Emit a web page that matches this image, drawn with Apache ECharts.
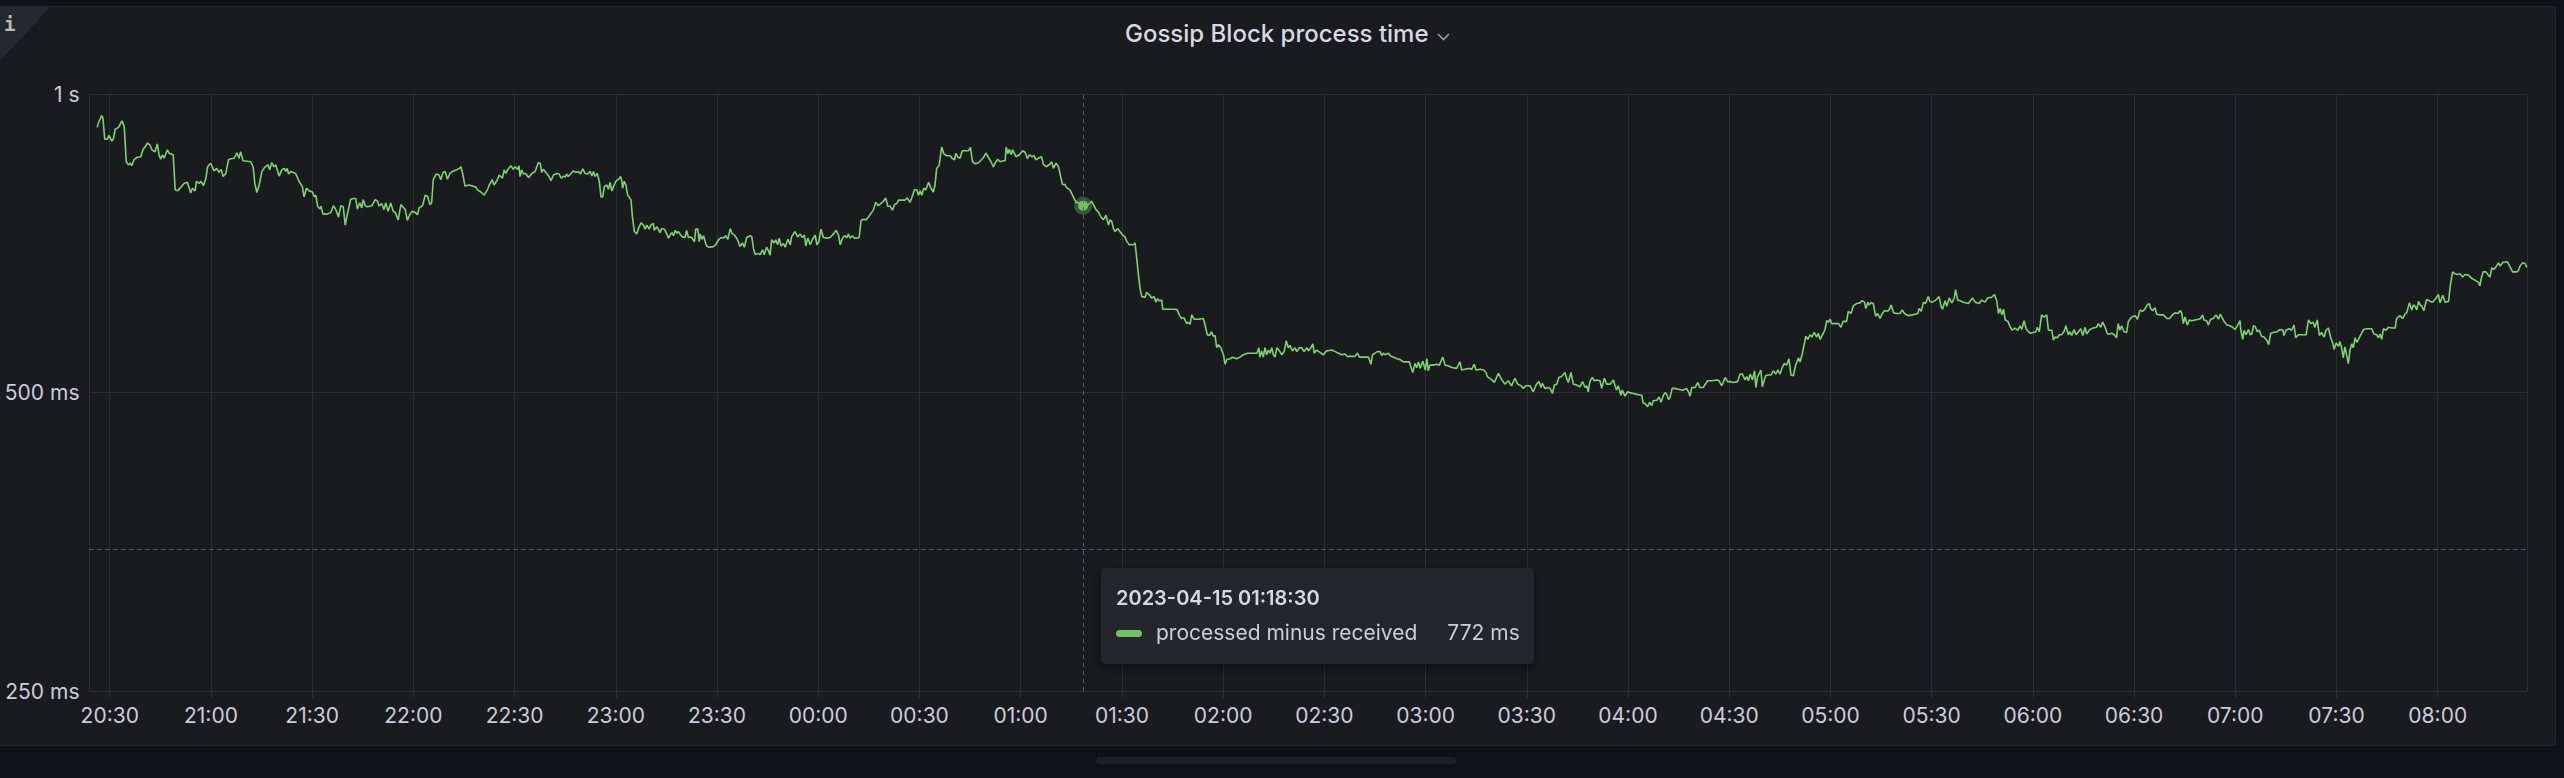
<!DOCTYPE html>
<html>
<head>
<meta charset="utf-8">
<title>Gossip Block process time</title>
<script src="https://cdn.jsdelivr.net/npm/echarts@6/dist/echarts.min.js"></script>
<style>
  html, body { margin: 0; padding: 0; width: 2564px; height: 778px; overflow: hidden; background: #111217; }
  #panel { position: absolute; left: 0; top: 6px; width: 2556px; height: 740px; box-sizing: border-box;
           background: #1a1b1f; border: 1px solid #26272c; border-left: none; border-radius: 0 4px 4px 0; }
  #corner { position: absolute; left: 0; top: 7px; width: 50px; height: 54px; background: #26282d;
            clip-path: polygon(0 0, 100% 0, 0 100%); }
  #info { position: absolute; left: 4px; top: 13px; font: bold 19px 'DejaVu Sans Mono', monospace; color: #b9bac0; }
  #scroll { position: absolute; left: 1096px; top: 757px; width: 360px; height: 7px; border-radius: 4px; background: #1f2025; }
  #chart { position: absolute; left: 0; top: 0; width: 2564px; height: 778px; }
</style>
</head>
<body>
<div id="panel"></div>
<div id="corner"></div>
<div id="info">i</div>
<div id="scroll"></div>
<div id="chart"></div>
<script>
// ---------------- data ----------------
// time of each sample, in minutes after 2023-04-14 20:30:00
const minutesSeg1 = [
  -3.7,-3.4,-2.4,-2.0,-1.5,-0.7,-0.2,0.6,1.1,1.6,
  2.6,3.6,4.3,4.9,5.5,6.2,6.5,7.2,8.2,9.2,
  9.9,10.5,11.2,11.9,12.5,13.4,14.1,14.6,15.1,15.6,
  16.1,17.1,17.6,18.8,19.4,20.1,21.1,22.0,23.0,24.0,
  24.5,25.3,25.7,26.5,27.0,27.8,28.5,29.0,29.9,30.4,
  30.9,31.7,32.4,33.0,33.6,34.4,35.2,35.9,36.9,37.7,
  38.3,38.8,39.5,41.8,42.5,43.0,43.6,44.3,45.1,46.1,
  46.9,47.4,48.0,48.7,49.2,50.2,51.0,51.7,52.2,52.6,
  53.0,53.7,54.4,55.1,56.1,57.1,57.6,58.3,59.1,60.1,
  60.6,61.1,61.6,62.3,62.6,63.2,64.5,65.5,66.3,67.0,
  67.8,68.5,69.2,69.8,70.5,71.4,72.1,72.9,73.4,74.1,
  74.7,75.1,75.7,76.4,77.7,78.7,79.4,79.8,80.6,81.3,
  81.8,82.5,83.3,84.0,84.6,85.5,86.3,87.6,88.2,88.9,
  89.7,90.5,91.2,91.7,92.7,93.5,94.2,94.9,95.4,95.9,
  96.8,97.6,98.1,98.8,99.4,100.1,100.8,101.6,102.8,103.6,
  104.1,104.6,105.3,106.5,107.5,108.5,109.0,110.0,111.0,112.0,
  112.5,113.4,113.9,114.9,115.4,116.4,116.9,117.4
];
const valuesSeg1 = [
  926,935,952,946,901,901,909,897,902,922,
  926,940,928,855,849,852,847,859,864,865,
  880,885,893,889,879,875,891,869,860,869,
  862,879,872,869,801,799,806,813,815,795,
  804,799,817,813,817,809,823,845,852,845,
  837,842,834,840,826,832,859,861,862,873,
  862,875,857,855,845,813,796,810,836,845,
  849,839,853,845,849,827,839,842,836,842,
  831,836,834,832,817,807,788,804,799,797,
  788,791,771,766,771,757,757,760,772,765,
  752,772,770,738,759,783,785,785,766,777,
  768,783,772,770,772,783,780,771,776,765,
  777,762,777,762,760,747,774,765,746,756,
  762,760,756,768,772,791,789,774,777,820,
  831,829,820,834,836,821,832,836,839,842,
  845,832,808,810,808,806,801,797,791,802,
  810,820,810,820,829,823,839,832
];
const minutesSeg2 = [
  118.0,118.9,119.6,120.1,120.9,121.3,121.6,122.1,122.6,123.3,
  124.1,125.1,126.1,127.0,127.6,128.0,128.5,129.5,130.2,130.8,
  131.5,132.5,133.2,133.8,134.5,135.0,135.4,135.9,136.7,137.4,
  138.1,138.9,139.5,140.2,140.9,141.7,142.4,142.9,143.4,143.8,
  144.5,145.1,145.6,146.1,146.6,147.3,147.8,148.3,148.8,149.3,
  150.0,150.8,151.4,151.8,152.0,152.5,153.0,153.5,153.9,154.5,
  154.9,155.5,156.2,156.7,157.5,158.2,158.7,159.2,159.9,160.4,
  161.1,161.4,162.1,162.6,163.1,163.6,164.4,165.1,165.6,166.1,
  166.6,167.1,167.6,168.1,168.5,169.0,169.7,170.5,171.0,171.5,
  172.0,172.5,173.3,173.7,174.3,174.7,175.0,175.5,176.0,176.5,
  176.9,177.6,178.9,179.6,180.4,181.2,181.9,182.6,183.2,183.9,
  184.4,185.3,186.1,186.8,187.5,188.1,188.8,189.8,190.3,190.8,
  191.3,192.1,192.8,193.5,194.0,194.7,195.2,195.7,196.2,197.0,
  197.4,198.0,198.4,199.0,199.7,200.2,201.0,201.7,202.1,203.1,
  203.9,204.6,205.3,205.9,206.3,206.9,207.6,208.3,209.1,209.6,
  210.2,210.8,211.5,212.5,213.5,214.5,215.3,216.0,216.5,217.2,
  217.8,218.5,218.9,219.4,220.1,220.7,221.4,222.1,222.7,223.4,
  224.1,224.9,225.7,226.4,227.0,227.8,228.6,229.3,230.0,230.6,
  231.3,232.0,232.6,233.3,233.8,234.8,235.7,236.4,237.2,237.7,
  238.5,239.2,239.7,240.2,240.7,241.3,241.9,242.7,243.4,244.1,
  244.6,245.1,245.8,246.6,247.2,248.1,249.1,249.6,250.4,250.8,
  251.4,252.0,252.7,253.5,254.5,255.1,255.7,256.5,257.5,258.5,
  259.0,259.7,260.4,261.2,261.9,262.4,263.2,263.9,264.9,265.4,
  265.7,266.2,266.6,267.2,267.6
];
const valuesSeg2 = [
  840,847,840,845,840,847,826,839,831,832,
  824,832,836,853,852,834,840,832,826,818,
  829,832,831,823,827,825,831,826,832,837,
  834,836,831,841,832,831,836,827,836,826,
  832,817,788,788,807,810,802,815,799,807,
  817,821,826,817,804,817,810,791,788,782,
  753,727,723,732,742,738,731,738,731,738,
  741,729,735,731,725,732,731,723,716,721,
  725,720,729,724,727,723,718,717,729,717,
  718,717,710,731,731,710,723,714,720,710,
  703,701,702,705,713,717,716,720,714,732,
  724,720,713,702,708,701,717,720,718,699,
  689,691,689,697,689,701,696,688,713,708,
  713,705,716,703,707,701,714,705,718,727,
  718,723,717,721,703,716,705,714,721,705,
  710,731,717,716,717,723,729,721,705,716,
  720,717,723,716,720,716,716,717,746,748,
  747,752,759,765,778,772,776,780,786,771,
  771,764,774,776,782,782,782,786,778,786,
  801,801,791,799,791,804,801,815,804,797,
  810,842,847,885,871,867,867,862,859,872,
  864,862,877,877,877,884,855,851,853,860,
  864,872,864,855,845,852,860,855,857,857,
  885,871,880,869,879
];
const minutesSeg3 = [
  268.6,269.6,270.6,271.3,272.0,272.6,273.3,273.9,274.5,275.2,
  276.2,276.7,277.5,278.5,279.2,279.7,280.5,281.2,281.9,282.4,
  283.1,283.6,284.6,285.6,286.4,287.6,288.5,290.1,291.0,291.7,
  292.3,293.0,293.7,294.5,295.3,296.0,296.5,297.0,297.5,298.0,
  298.7,299.4,300.2,300.9,301.4,302.2,303.4,303.9,304.4,304.9,
  305.4,305.9,306.9,307.3,308.1,308.8,309.5,310.1,310.5,311.1,
  311.8,312.1,313.1,314.3,315.7,316.4,317.0,317.7,318.4,319.2,
  319.7,320.2,320.7,321.4,322.7,324.1,324.6,325.3,325.9,326.6,
  327.1,327.6,328.1,328.6,329.3,330.1,330.6,331.1,332.1,332.8,
  334.0,335.0,336.0,337.2,338.5,340.0,340.6,340.9,341.4,341.9,
  342.4,342.9,343.4,343.9,344.4,344.9,345.4,345.9,346.7,347.4,
  348.1,348.7,349.3,349.8,350.6,351.3,351.8,352.6,353.3,354.0,
  354.8,355.3,356.0,356.6,357.0,357.7,358.7,359.7,360.7,362.2,
  363.2,364.2,365.2,366.1,366.8,368.1,369.1,369.8,370.4,371.6,
  373.1,373.8,374.3,375.0,375.7,376.5,377.0,377.5,378.0,379.0,
  379.7,380.5,381.5,382.4,383.4,385.2,386.2,386.9,387.4,387.9,
  388.4,389.2,389.9,390.4,390.8,391.3,392.3,393.3,394.1,395.1,
  395.8,396.8,397.8,399.2,400.2,400.7,401.7,403.0,403.7,404.4,
  405.0,406.2,407.2,407.9,408.3,409.4,410.4,411.6,412.5,413.5,
  414.5,415.5
];
const valuesSeg3 = [
  865,869,877,874,861,869,865,867,859,862,
  865,850,845,849,855,842,852,845,824,811,
  811,805,801,788,778,777,772,774,780,772,
  765,761,753,747,755,738,747,744,732,727,
  732,727,721,718,711,705,705,708,683,657,
  636,625,624,631,628,623,625,617,622,619,
  620,607,607,607,607,606,599,594,595,587,
  589,586,599,593,593,594,586,572,571,576,
  570,571,555,559,555,546,534,540,541,543,
  541,543,546,548,548,548,555,543,551,543,
  555,546,552,548,555,546,543,555,551,546,
  550,564,555,558,551,555,550,555,555,550,
  555,551,555,560,548,552,549,546,551,552,
  550,548,546,547,544,544,544,548,543,543,
  543,534,546,548,550,550,545,548,546,548,
  544,543,541,540,537,537,524,535,530,537,
  529,538,527,541,526,533,533,534,533,543,
  533,532,530,529,537,527,528,529,528,534,
  527,528,527,524,519,516,512,523,516,510,
  514,508
];
const minutesSeg4 = [
  416.5,417.3,418.3,419.0,419.7,421.0,421.9,422.9,423.6,424.2,
  424.6,425.4,426.4,426.9,427.6,428.2,428.9,429.5,430.3,431.3,
  431.8,432.3,433.1,433.8,434.8,435.8,436.5,437.3,437.8,438.2,
  438.7,439.4,440.0,440.7,441.7,442.2,443.0,443.7,444.7,445.7,
  446.1,446.6,447.1,447.9,448.3,449.1,449.9,450.6,451.6,452.6,
  454.1,454.5,455.2,455.8,456.5,457.0,457.5,458.5,459.2,459.8,
  460.5,461.0,461.5,462.0,462.5,463.1,463.9,464.9,465.9,466.4,
  467.4,467.9,468.4,468.9,469.9,470.7,471.3,472.3,473.6,474.8,
  476.3,477.0,477.8,478.8,479.5,480.2,481.2,482.5,483.2,483.9,
  484.7,485.2,485.7,486.2,486.9,487.5,487.9,488.4,488.8,489.4,
  489.8,490.4,490.8,491.6,492.4,493.1,493.8,494.4,495.1,495.6,
  496.3,497.0,497.7,498.3,499.0,499.7,500.5,501.0,501.7,502.3,
  502.7,503.3,504.0,504.5,505.2,505.9,506.4,506.9,507.9,508.4,
  508.9,509.4,509.9,510.4,511.4,512.4,513.1,513.8,514.8,515.3,
  516.1,516.8,517.8,518.8,519.3,520.1,520.5,521.1,521.4,522.0,
  522.7,523.4,524.0,524.7,525.4,526.0,526.7,527.4,528.0,528.7,
  529.6,530.6,531.3,531.9,533.1,534.3,535.1,535.9,536.3,536.9,
  537.6,538.2,539.0,539.5,540.2,541.2,542.2,542.8,543.2,544.0,
  544.5,545.2,546.0,546.7,547.1,547.7,548.4,549.4,550.9,552.1,
  552.9,554.1,554.8,555.8,556.6,557.8,558.6,559.3,559.8,560.3,
  560.8,561.3,561.8,562.6,563.2,563.9,564.7,565.5,566.2
];
const valuesSeg4 = [
  517,510,508,505,508,508,501,510,513,506,
  511,505,506,505,499,509,510,518,519,524,
  517,512,524,510,509,507,513,506,508,501,
  513,518,514,515,514,505,517,510,510,515,
  509,503,508,497,503,496,501,500,499,498,
  497,488,487,484,489,485,491,491,495,489,
  497,500,498,492,495,505,505,504,503,503,
  505,501,496,506,506,512,506,506,514,514,
  515,514,508,518,513,513,512,513,522,522,
  515,519,514,522,515,526,506,519,522,527,
  507,515,520,521,521,526,522,527,522,529,
  535,533,541,521,520,533,542,537,548,561,
  570,566,572,569,575,569,574,566,574,579,
  591,589,593,587,587,587,582,590,590,604,
  601,612,615,616,619,617,608,617,613,616,
  615,597,601,594,601,605,604,606,613,602,
  601,601,606,601,598,599,600,601,608,604,
  617,615,625,618,617,620,625,611,607,619,
  611,623,616,623,635,620,619,617,615,623,
  617,615,620,617,623,624,628,619,601,608,
  599,607,592,590,583,578,581,578,584
];
const minutesSeg5 = [
  566.7,567.4,568.0,568.7,569.3,570.1,570.9,571.3,571.9,572.6,
  573.3,574.1,574.6,575.6,576.1,576.6,577.3,577.8,578.5,579.2,
  579.8,580.5,581.0,581.5,582.2,582.8,583.5,584.2,584.8,585.5,
  585.9,586.9,587.9,588.9,589.4,590.1,590.7,591.4,592.1,592.7,
  593.4,594.1,594.8,595.3,595.8,596.3,597.0,597.8,598.3,599.3,
  600.3,601.0,601.8,602.5,603.2,603.9,604.5,604.9,605.5,606.2,
  606.7,607.7,608.7,609.7,610.5,611.4,612.1,613.1,613.6,614.1,
  614.6,615.1,615.8,616.4,617.1,618.1,619.1,619.7,620.3,620.7,
  621.5,622.0,622.7,623.5,624.3,625.0,625.5,626.0,626.7,627.5,
  628.4,629.2,629.9,630.6,631.4,631.6,632.2,632.6,633.2,633.9,
  634.4,634.9,635.4,635.9,636.5,637.1,637.8,638.5,639.3,639.9,
  640.5,641.3,642.3,643.3,644.1,644.4,645.0,646.0,646.7,647.4,
  647.9,648.7,649.7,651.0,651.7,652.4,653.1,653.6,654.3,654.9,
  655.6,656.3,656.9,657.6,658.3,658.9,659.3,659.9,660.6,661.0,
  661.5,662.0,662.5,663.0,663.5,664.0,664.5,665.0,665.5,666.0,
  666.5,667.2,668.0,669.0,670.4,671.1,671.9,672.4,672.9,673.4,
  673.9,674.7,675.4,676.4,677.4,677.8,678.8,679.6,680.3,680.8,
  681.6,682.3,682.8,683.3,683.8,684.3,684.8,685.3,685.9,686.7,
  687.5,688.2,688.7,689.5,690.2,690.7,691.5,692.2,693.2,693.7,
  694.4,695.1,695.8,696.6,697.4,698.1,699.1,700.1,701.1,702.1,
  702.5,703.0,703.5,704.3,705.0,705.5,706.0,706.7,707.3,708.0,
  708.5,709.3,710.0,710.6,711.4,712.2,713.4,713.9,714.4,715.2,
  715.9,716.4
];
const valuesSeg5 = [
  579,591,580,576,574,575,576,582,576,599,
  596,599,578,578,565,569,568,572,572,576,
  584,572,576,571,579,572,576,580,571,582,
  573,579,581,582,587,582,589,582,573,573,
  574,572,568,587,578,584,576,575,590,596,
  598,593,606,604,607,613,615,608,605,609,
  600,599,599,594,594,599,602,601,605,602,
  587,596,585,592,591,592,593,594,599,592,
  591,585,593,594,599,593,600,596,590,585,
  584,582,579,584,591,579,566,578,572,579,
  572,573,584,583,576,578,570,569,565,559,
  574,575,576,579,578,571,578,580,578,585,
  568,572,572,572,592,587,589,582,592,571,
  575,569,578,581,568,561,553,561,557,563,
  555,542,556,546,535,552,560,555,568,562,
  566,572,579,580,580,573,572,568,573,566,
  580,578,582,581,581,594,598,594,600,602,
  616,606,613,611,606,618,613,611,605,621,
  619,617,618,623,628,616,627,617,618,640,
  662,659,658,659,654,658,657,652,649,646,
  641,654,662,662,657,654,668,666,670,676,
  671,677,677,678,670,662,662,664,671,676,
  675,669
];

const titleText = 'Gossip Block process time';
const seriesName = 'processed minus received';
const yTickValuesMs = [250, 500, 1000];     // log2 axis ticks
const xRangeMinutes = [-6, 716.4];          // visible time window (minutes after 20:30)
const xTickStepMinutes = 30;
const hoverMinute = 288.5;                  // hovered sample (01:18:30)
const hoverCursorMs = 347.5;                // cursor height of the crosshair

// ---------------- styles ----------------
const lineColor = '#73bf69';
const gridColor = '#2d2e33';
const labelColor = '#ccccdc';
const FONT = 'Inter';

// ---------------- build ----------------
const baseTime = new Date(2023, 3, 14, 20, 30, 0).getTime();
const MIN = 60000;
const allMinutes = [].concat(minutesSeg1, minutesSeg2, minutesSeg3, minutesSeg4, minutesSeg5);
const allValues = [].concat(valuesSeg1, valuesSeg2, valuesSeg3, valuesSeg4, valuesSeg5);
const n = Math.min(allMinutes.length, allValues.length);
const yMinMs = yTickValuesMs[0];
const yMaxMs = yTickValuesMs[yTickValuesMs.length - 1];
const toAxis = ms => Math.log2(ms / yMinMs);
const fromAxis = a => yMinMs * Math.pow(2, a);
const fmtMs = ms => ms >= 1000 ? (Math.round(ms / 100) / 10) + ' s' : Math.round(ms) + ' ms';
const pad = v => String(v).padStart(2, '0');
const fmtDate = t => {
  const d = new Date(t);
  return d.getFullYear() + '-' + pad(d.getMonth() + 1) + '-' + pad(d.getDate()) + ' ' +
         pad(d.getHours()) + ':' + pad(d.getMinutes()) + ':' + pad(d.getSeconds());
};
const seriesData = [];
for (let i = 0; i < n; i++) {
  seriesData.push([baseTime + Math.round(allMinutes[i] * MIN), toAxis(allValues[i])]);
}

const chart = echarts.init(document.getElementById('chart'), null, { renderer: 'svg', width: 2564, height: 778 });

chart.setOption({
  animation: false,
  backgroundColor: 'transparent',
  textStyle: { fontFamily: FONT },
  title: {
    text: titleText,
    left: 1120,
    top: 16,
    textStyle: { color: '#d8d9e0', fontSize: 24, fontWeight: 500, fontFamily: FONT }
  },
  graphic: [{
    type: 'polyline',
    shape: { points: [[1438, 34], [1443.5, 39.5], [1449, 34]] },
    style: { stroke: '#9a9ba3', lineWidth: 1.6, fill: null }
  }],
  grid: { left: 89.5, right: 37.2, top: 94.3, bottom: 87, containLabel: false, outerBoundsMode: 'none' },
  tooltip: {
    trigger: 'axis',
    showDelay: 0,
    hideDelay: 100000,
    alwaysShowContent: true,
    transitionDuration: 0,
    backgroundColor: '#24262b',
    borderWidth: 0,
    padding: [16, 14, 17, 15],
    extraCssText: 'border-radius:4px;box-shadow:0 4px 10px rgba(0,0,0,0.45);',
    position: pt => [pt[0] + 18, pt[1] + 19],
    axisPointer: {
      type: 'cross',
      label: { show: false },
      lineStyle: { color: '#5d6068', width: 1, type: [4, 4] },
      crossStyle: { color: '#5d6068', width: 1, type: [4, 4] }
    },
    formatter: params => {
      const p = Array.isArray(params) ? params[0] : params;
      const i = p.dataIndex;
      return '<div style="font:600 20px ' + FONT + ';line-height:28px;color:#d8d9e0;white-space:nowrap">' +
             fmtDate(seriesData[i][0]) + '</div>' +
             '<div style="display:flex;align-items:center;margin-top:7px;font:400 21px ' + FONT +
             ';line-height:28px;color:' + labelColor + ';white-space:nowrap">' +
             '<span style="display:inline-block;width:26px;height:7px;border-radius:4px;background:' + lineColor +
             ';margin-right:14px"></span><span>' + p.seriesName + '</span>' +
             '<span style="margin-left:30px">' + fmtMs(allValues[i]) + '</span></div>';
    }
  },
  xAxis: {
    type: 'time',
    min: baseTime + xRangeMinutes[0] * MIN,
    max: baseTime + xRangeMinutes[1] * MIN,
    minInterval: (xTickStepMinutes + 1) * MIN,
    maxInterval: (xTickStepMinutes + 10) * MIN,
    splitNumber: 23,
    axisLine: { show: false },
    axisTick: { show: true, length: 7, lineStyle: { color: gridColor } },
    splitLine: { show: true, lineStyle: { color: gridColor, width: 1 } },
    axisLabel: {
      color: labelColor, fontSize: 21, fontFamily: FONT, margin: 14, hideOverlap: false,
      formatter: v => {
        const d = new Date(v);
        if (d.getMinutes() % xTickStepMinutes !== 0 || d.getSeconds() !== 0) return '';
        return pad(d.getHours()) + ':' + pad(d.getMinutes());
      }
    }
  },
  yAxis: {
    type: 'value',
    min: 0,
    max: toAxis(yMaxMs),
    interval: 1,
    axisLine: { show: false },
    axisTick: { show: false },
    splitLine: { show: true, lineStyle: { color: gridColor, width: 1 } },
    axisLabel: {
      color: labelColor, fontSize: 21, fontFamily: FONT, margin: 10,
      formatter: v => fmtMs(fromAxis(v))
    },
    axisPointer: { snap: false, triggerTooltip: false, label: { show: false } }
  },
  series: [{
    type: 'line',
    name: seriesName,
    data: seriesData,
    showSymbol: false,
    symbol: 'circle',
    symbolSize: 10,
    lineStyle: { color: lineColor, width: 1.6 },
    itemStyle: { color: lineColor, borderColor: 'rgba(115,191,105,0.35)', borderWidth: 8 },
    emphasis: {
      scale: false,
      focus: 'none',
      lineStyle: { width: 1.6 },
      itemStyle: { color: lineColor, borderColor: 'rgba(115,191,105,0.35)', borderWidth: 8 }
    },
    z: 3
  }]
});

// simulate the hovered state shown in the reference
const hx = chart.convertToPixel({ xAxisIndex: 0 }, baseTime + hoverMinute * MIN);
const hy = chart.convertToPixel({ yAxisIndex: 0 }, toAxis(hoverCursorMs));
chart.dispatchAction({ type: 'showTip', x: hx, y: hy });
</script>
</body>
</html>
